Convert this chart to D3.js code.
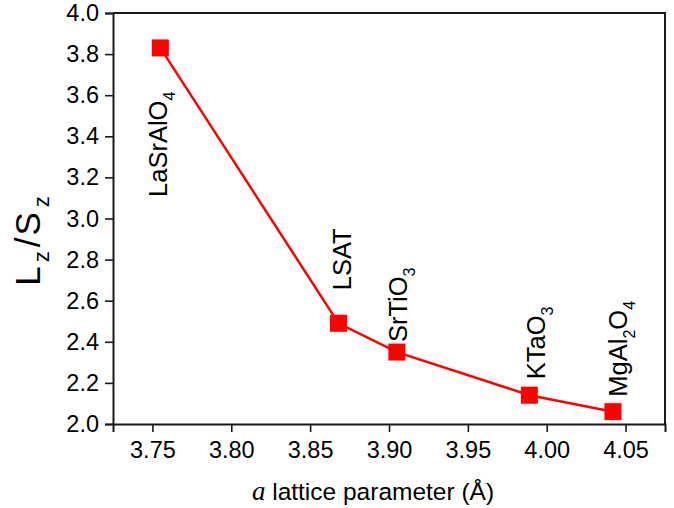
<!DOCTYPE html>
<html>
<head>
<meta charset="utf-8">
<title>Lz/Sz vs a lattice parameter</title>
<script src="https://d3js.org/d3.v7.min.js"></script>
<style>
  body { margin: 0; background: #fff; }
  text { font-family: "Liberation Sans", Arial, sans-serif; fill: #000; }
</style>
</head>
<body>
<svg id="chart"></svg>
<script>
  // data
  var substrates = ["LaSrAlO4", "LSAT", "SrTiO3", "KTaO3", "MgAl2O4"];
  var latticeA = [3.755, 3.868, 3.905, 3.989, 4.042];
  var lzsz = [3.83, 2.49, 2.35, 2.14, 2.06];

  var xMajor = [3.75, 3.80, 3.85, 3.90, 3.95, 4.00, 4.05];
  var xMinor = [3.725, 3.775, 3.825, 3.875, 3.925, 3.975, 4.025, 4.075];
  var yMajor = [2.0, 2.2, 2.4, 2.6, 2.8, 3.0, 3.2, 3.4, 3.6, 3.8, 4.0];
  var yMinor = [2.1, 2.3, 2.5, 2.7, 2.9, 3.1, 3.3, 3.5, 3.7, 3.9];

  // label placement, pixel offsets from the marker (rotated text)
  var labelOffset = [[7, 149], [12, -33], [10, -10], [16, -16], [14, -15]];

  var width = 674, height = 508;
  var margin = {top: 13, right: 9, bottom: 84, left: 113};

  var svg = d3.select("#chart")
    .attr("width", width)
    .attr("height", height);

  svg.append("rect").attr("width", width).attr("height", height).attr("fill", "#fff");

  var x = d3.scaleLinear().domain([3.725, 4.075]).range([margin.left, width - margin.right]);
  var y = d3.scaleLinear().domain([2.0, 4.0]).range([height - margin.bottom, margin.top]);

  var axisColor = "#1a1a1a";

  // frame top + right
  svg.append("path")
    .attr("d", "M" + x.range()[0] + "," + y.range()[1] + "H" + x.range()[1] + "V" + y.range()[0])
    .attr("fill", "none")
    .attr("stroke", axisColor)
    .attr("stroke-width", 2);

  // x axis
  var gx = svg.append("g").attr("transform", "translate(0," + y.range()[0] + ")");
  gx.call(d3.axisBottom(x).tickValues(xMinor).tickSize(4).tickFormat(""));
  gx.call(d3.axisBottom(x).tickValues(xMajor).tickSize(8).tickPadding(9).tickFormat(d3.format(".2f")));

  // y axis
  var gy = svg.append("g").attr("transform", "translate(" + x.range()[0] + ",0)");
  gy.call(d3.axisLeft(y).tickValues(yMinor).tickSize(4).tickFormat(""));
  gy.call(d3.axisLeft(y).tickValues(yMajor).tickSize(8).tickPadding(6).tickFormat(d3.format(".1f")));

  svg.selectAll(".domain").attr("stroke", axisColor).attr("stroke-width", 2);
  svg.selectAll(".tick line").attr("stroke", axisColor).attr("stroke-width", 1.6);
  svg.selectAll(".tick text").attr("font-size", 23.5).attr("font-family", null).attr("fill", "#000");

  // line + markers
  var pts = latticeA.map(function(d, i) { return [d, lzsz[i]]; });

  svg.append("path")
    .datum(pts)
    .attr("fill", "none")
    .attr("stroke", "#ff0000")
    .attr("stroke-width", 2.5)
    .attr("d", d3.line().x(function(d) { return x(d[0]); }).y(function(d) { return y(d[1]); }));

  var size = 17;
  svg.selectAll("rect.pt")
    .data(pts)
    .enter().append("rect")
    .attr("class", "pt")
    .attr("x", function(d) { return x(d[0]) - size / 2; })
    .attr("y", function(d) { return y(d[1]) - size / 2; })
    .attr("width", size)
    .attr("height", size)
    .attr("fill", "#ff0000");

  // substrate labels, digits as subscripts
  substrates.forEach(function(name, i) {
    var px = x(latticeA[i]) + labelOffset[i][0];
    var py = y(lzsz[i]) + labelOffset[i][1];
    var t = svg.append("text")
      .attr("transform", "translate(" + px + "," + py + ") rotate(-90)")
      .attr("font-size", 25.5);
    var parts = name.split(/(\d+)/).filter(function(s) { return s.length; });
    var shifted = false;
    parts.forEach(function(p) {
      var isSub = /^\d+$/.test(p);
      var ts = t.append("tspan").text(p);
      if (isSub) {
        ts.attr("font-size", 16).attr("dy", shifted ? 0 : 8);
        shifted = true;
      } else {
        ts.attr("dy", shifted ? -8 : 0);
        shifted = false;
      }
    });
  });

  // axis titles
  var yt = svg.append("text")
    .attr("transform", "translate(40,241) rotate(-90)")
    .attr("text-anchor", "middle")
    .attr("font-size", 35);
  yt.append("tspan").text("L");
  yt.append("tspan").text("z").attr("font-size", 22).attr("dx", 4).attr("dy", 9);
  yt.append("tspan").text("/").attr("dx", 4).attr("dy", -9);
  yt.append("tspan").text("S").attr("dx", 2);
  yt.append("tspan").text("z").attr("font-size", 22).attr("dx", 5).attr("dy", 9);

  var xt = svg.append("text")
    .attr("x", (x.range()[0] + x.range()[1]) / 2 - 16)
    .attr("y", 500)
    .attr("text-anchor", "middle")
    .attr("font-size", 24.5);
  xt.append("tspan").text("a").attr("font-family", "'Liberation Serif', 'Times New Roman', serif").attr("font-style", "italic").attr("font-size", 27);
  xt.append("tspan").text(" lattice parameter (Å)");
</script>
</body>
</html>
